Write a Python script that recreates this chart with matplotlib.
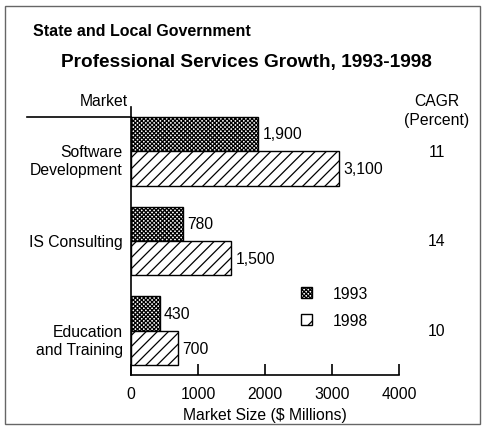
import matplotlib.pyplot as plt
from matplotlib.patches import Patch, Rectangle
from matplotlib.lines import Line2D
from matplotlib.transforms import ScaledTranslation, blended_transform_factory

plt.rcParams['font.family'] = ['Liberation Sans', 'DejaVu Sans']
plt.rcParams['hatch.linewidth'] = 0.9

markets = ["Software\nDevelopment", "IS Consulting", "Education\nand Training"]
v1993 = [1900, 780, 430]
v1998 = [3100, 1500, 700]
cagr = [11, 14, 10]
xticks = [0, 1000, 2000, 3000, 4000]

W, H = 485, 435
fs = 11.3
fig = plt.figure(figsize=(W / 100, H / 100), dpi=100)

def fx(px):
    return px / W

def fy(py):
    return 1 - py / H

ax = fig.add_axes([fx(131), fy(376), fx(399) - fx(131), fy(108) - fy(376)])

ypos = [2, 1, 0]
h = 0.383
b1 = ax.barh([y + h / 2 for y in ypos], v1993, height=h, color='white',
              edgecolor='black', hatch='xxxxxxxx', linewidth=1.0)
b2 = ax.barh([y - h / 2 for y in ypos], v1998, height=h, color='white',
              edgecolor='black', hatch='///', linewidth=1.0)
ax.bar_label(b1, labels=[f'{v:,}' for v in v1993], padding=3, fontsize=fs)
ax.bar_label(b2, labels=[f'{v:,}' for v in v1998], padding=3, fontsize=fs)

ax.set_xlim(0, 4000)
ax.set_ylim(-0.49, 2.49)
ax.spines['top'].set_visible(False)
ax.spines['right'].set_visible(False)
ax.spines['left'].set_linewidth(1.2)
ax.spines['bottom'].set_linewidth(1.2)
ax.set_xticks(xticks)
ax.tick_params(axis='x', direction='in', length=8, width=1.2, labelsize=fs, pad=8)
ax.set_yticks([])
ax.set_xlabel('Market Size ($ Millions)', fontsize=fs, labelpad=4)

# market labels, first line level with the group centre
for y, name in zip(ypos, markets):
    off = ScaledTranslation(0, -0.095 * name.count('\n'), fig.dpi_scale_trans)
    ax.text(-0.03, y, name, transform=ax.get_yaxis_transform() + off,
            ha='right', va='center', fontsize=fs, multialignment='right',
            linespacing=1.3)

# CAGR column
cagr_tr = blended_transform_factory(fig.transFigure, ax.transData)
for y, c in zip(ypos, cagr):
    ax.text(fx(437), y, str(c), transform=cagr_tr, ha='center', va='center', fontsize=fs)
fig.text(fx(437), fy(102), 'CAGR', ha='center', va='center', fontsize=fs)
fig.text(fx(437), fy(121), '(Percent)', ha='center', va='center', fontsize=fs)

fig.text(fx(104), fy(102), 'Market', ha='center', va='center', fontsize=fs)
fig.add_artist(Line2D([fx(27), fx(131)], [fy(118), fy(118)], color='black', lw=1.2))

fig.text(fx(33), fy(31), 'State and Local Government', ha='left', va='center',
         fontsize=11.5, fontweight='bold')
fig.text(fx(246), fy(63), 'Professional Services Growth, 1993-1998', ha='center',
         va='center', fontsize=13.7, fontweight='bold')

handles = [Patch(facecolor='white', edgecolor='black', hatch='xxxxxxxx', label='1993'),
           Patch(facecolor='white', edgecolor='black', hatch='/', label='1998')]
fig.legend(handles=handles, loc='upper left', bbox_to_anchor=(fx(301), fy(287)),
           frameon=False, fontsize=fs, handlelength=0.7, handleheight=0.7,
           handletextpad=1.3, labelspacing=0.75, borderpad=0, borderaxespad=0)

fig.add_artist(Rectangle((fx(5), fy(425)), fx(480) - fx(5), fy(7) - fy(425),
                         transform=fig.transFigure, fill=False, edgecolor='#666666', lw=1.0))

fig.savefig('out.png', dpi=100)
